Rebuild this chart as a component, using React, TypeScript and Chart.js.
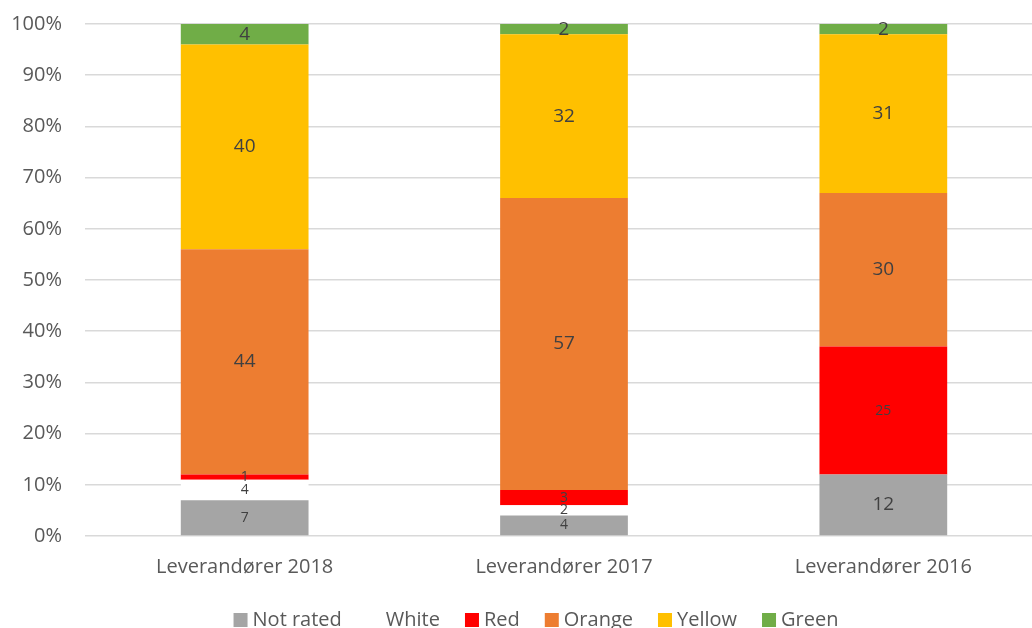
import React, { useEffect, useRef } from "react";
import { Chart, registerables } from "chart.js";

Chart.register(...registerables);

const categories = ["Leverandører 2018", "Leverandører 2017", "Leverandører 2016"];
const seriesNames = ["Not rated", "White", "Red", "Orange", "Yellow", "Green"];
const notRated = [7, 4, 12];
const white = [4, 2, 0];
const red = [1, 3, 25];
const orange = [44, 57, 30];
const yellow = [40, 32, 31];
const green = [4, 2, 2];
const yTicks = [0, 10, 20, 30, 40, 50, 60, 70, 80, 90, 100];

const colors = ["#A5A5A5", "#FFFFFF", "#FF0000", "#ED7D31", "#FFC000", "#70AD47"];
// font size of each data label [series][category]
const labelSizes = [
  [14, 14, 19],
  [14, 14, 14],
  [14, 14, 14],
  [19, 19, 19],
  [19, 19, 19],
  [19, 19, 19],
];

const FONT = "'Open Sans', 'Noto Sans', sans-serif";
const TEXT = "#595959";

const labelPlugin = {
  id: "segLabels",
  afterDatasetsDraw(chart: any) {
    const ctx = chart.ctx;
    ctx.save();
    ctx.textAlign = "center";
    ctx.textBaseline = "middle";
    ctx.fillStyle = "#404040";
    chart.data.datasets.forEach((ds: any, di: number) => {
      const meta = chart.getDatasetMeta(di);
      meta.data.forEach((el: any, i: number) => {
        const v = ds.data[i];
        if (!v) return;
        const p = el.getProps(["x", "y", "base"], true);
        ctx.font = `${labelSizes[di][i]}px ${FONT}`;
        ctx.fillText(String(v), p.x, (p.y + p.base) / 2);
      });
    });
    ctx.restore();
  },
};

const legendPlugin = {
  id: "customLegend",
  afterDraw(chart: any) {
    const ctx = chart.ctx;
    ctx.save();
    ctx.font = `20px ${FONT}`;
    ctx.textBaseline = "middle";
    ctx.textAlign = "left";
    const box = 14;
    const gap = 5;
    const spacing = 25;
    const items = chart.data.datasets.map((ds: any) => ({
      text: ds.label,
      color: ds.backgroundColor,
      w: box + gap + ctx.measureText(ds.label).width,
    }));
    const total = items.reduce((a: number, it: any) => a + it.w, 0) + spacing * (items.length - 1);
    const cx = 536;
    const y = chart.chartArea.bottom + 84;
    let x = cx - total / 2;
    items.forEach((it: any) => {
      ctx.fillStyle = it.color;
      ctx.fillRect(x, y - box / 2, box, box);
      ctx.fillStyle = TEXT;
      ctx.fillText(it.text, x + box + gap, y);
      x += it.w + spacing;
    });
    ctx.restore();
  },
};

export default function App() {
  const ref = useRef<HTMLCanvasElement>(null);
  useEffect(() => {
    if (!ref.current) return;
    const values = [notRated, white, red, orange, yellow, green];
    const chart = new Chart(ref.current, {
      type: "bar",
      data: {
        labels: categories,
        datasets: seriesNames.map((name, i) => ({
          label: name,
          data: values[i],
          backgroundColor: colors[i],
          borderWidth: 0,
          barPercentage: 0.4,
          categoryPercentage: 1,
        })),
      },
      options: {
        responsive: false,
        animation: false,
        layout: { padding: { top: 24, right: 7, left: 0, bottom: 30 } },
        plugins: {
          tooltip: { enabled: false },
          legend: { display: false },
        },
        scales: {
          x: {
            stacked: true,
            grid: { display: false, drawTicks: false },
            border: { display: false },
            ticks: { color: TEXT, font: { family: FONT, size: 20 }, padding: 19 },
          },
          y: {
            stacked: true,
            min: 0,
            max: 100,
            afterFit: (s: any) => {
              s.width = 85;
            },
            afterBuildTicks: (s: any) => {
              s.ticks = yTicks.map((v) => ({ value: v }));
            },
            grid: {
              color: "#D9D9D9",
              lineWidth: 1.5,
              drawTicks: true,
              tickLength: 23,
              tickColor: "rgba(0,0,0,0)",
            },
            border: { display: false },
            ticks: {
              color: TEXT,
              font: { family: FONT, size: 20 },
              padding: 0,
              callback: (v: any) => v + "%",
            },
          },
        },
      },
      plugins: [labelPlugin, legendPlugin],
    });
    return () => chart.destroy();
  }, []);
  return (
    <div style={{ position: "fixed", left: 0, top: 0, width: 1050, height: 628, background: "#fff" }}>
      <canvas ref={ref} width={1050} height={628} />
    </div>
  );
}
